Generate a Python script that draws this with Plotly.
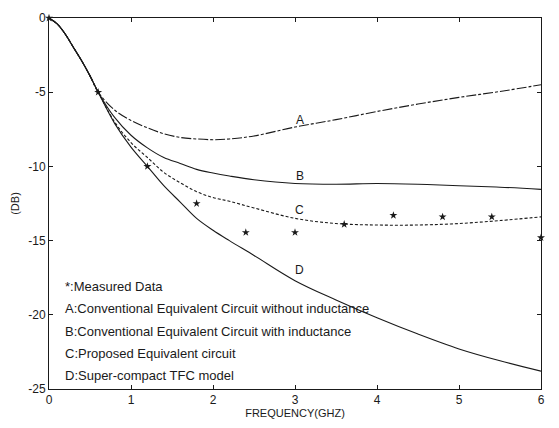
import plotly.graph_objects as go

freq = [0, 0.1, 0.2, 0.3, 0.4, 0.5, 0.6, 0.8, 1.0, 1.2, 1.4, 1.6, 1.8, 2.0, 2.2, 2.5,
        3.0, 3.5, 4.0, 4.5, 5.0, 5.5, 6.0]
head = [0, -0.4, -1.1, -2.0, -2.9, -3.9, -5.0]
curve_a = head + [-6.2, -6.9, -7.4, -7.8, -8.05, -8.15, -8.2, -8.15, -7.95,
                  -7.35, -6.85, -6.3, -5.8, -5.35, -4.95, -4.5]
curve_b = head + [-6.7, -7.9, -8.75, -9.4, -9.8, -10.2, -10.45, -10.65, -10.9,
                  -11.15, -11.2, -11.15, -11.2, -11.3, -11.4, -11.55]
curve_c = head + [-7.0, -8.4, -9.4, -10.4, -11.1, -11.7, -12.1, -12.35, -12.8,
                  -13.5, -13.85, -13.95, -13.95, -13.85, -13.65, -13.4]
curve_d = head + [-7.1, -8.7, -10.0, -11.3, -12.4, -13.5, -14.3, -15.0, -16.0,
                  -17.7, -19.0, -20.2, -21.3, -22.3, -23.1, -23.8]

meas_f = [0, 0.6, 1.2, 1.8, 2.4, 3.0, 3.6, 4.2, 4.8, 5.4, 6.0]
meas_db = [0, -5.0, -10.0, -12.5, -14.45, -14.45, -13.9, -13.3, -13.4, -13.4, -14.8]

curve_labels = ["A", "B", "C", "D"]
label_y = [-6.9, -10.65, -12.95, -16.95]
legend_lines = [
    "*:Measured Data",
    "A:Conventional Equivalent Circuit without inductance",
    "B:Conventional Equivalent Circuit with inductance",
    "C:Proposed Equivalent circuit",
    "D:Super-compact TFC model",
]
x_ticks = [0, 1, 2, 3, 4, 5, 6]
y_ticks = [0, -5, -10, -15, -20, -25]

FONT = "Liberation Sans, Arial, sans-serif"
INK = "#1a1a1a"

fig = go.Figure()
styles = [("10px,2px,3px,2px", curve_a), ("solid", curve_b),
          ("3px,2px", curve_c), ("solid", curve_d)]
for dash, ys in styles:
    fig.add_trace(go.Scatter(x=freq, y=ys, mode="lines", line_shape="spline",
                             line=dict(color=INK, width=1.1, dash=dash),
                             showlegend=False, hoverinfo="skip"))
fig.add_trace(go.Scatter(x=meas_f, y=meas_db, mode="markers",
                         marker=dict(symbol="star", size=6, color=INK),
                         showlegend=False, cliponaxis=False))

for lab, ly in zip(curve_labels, label_y):
    fig.add_annotation(x=3.06, y=ly, text=lab, showarrow=False,
                       font=dict(family=FONT, size=12, color=INK))

for i, t in enumerate(legend_lines):
    fig.add_annotation(xref="paper", yref="paper", x=(63 - 49) / 492,
                       y=1 - (286 + 22.8 * i - 11) / 380, text=t, showarrow=False,
                       xanchor="left", yanchor="middle",
                       font=dict(family=FONT, size=13, color=INK))

axis_common = dict(showline=True, linecolor=INK, linewidth=1, mirror="ticks",
                   ticks="inside", ticklen=4, tickcolor=INK, showgrid=False,
                   zeroline=False, tickfont=dict(family=FONT, size=12, color=INK))
fig.update_xaxes(range=[0, 6], tickvals=x_ticks, ticktext=[str(v) for v in x_ticks],
                 title=dict(text="FREQUENCY(GHZ)", standoff=2,
                            font=dict(family=FONT, size=11, color=INK)),
                 **axis_common)
fig.update_yaxes(range=[-25, 0], tickvals=y_ticks, ticktext=[str(v) for v in y_ticks],
                 title=dict(text="(DB)", standoff=6,
                            font=dict(family=FONT, size=11, color=INK)),
                 **axis_common)

fig.update_layout(width=559, height=428, margin=dict(l=49, r=18, t=11, b=37),
                  plot_bgcolor="white", paper_bgcolor="white")
fig.write_html("out.html")
